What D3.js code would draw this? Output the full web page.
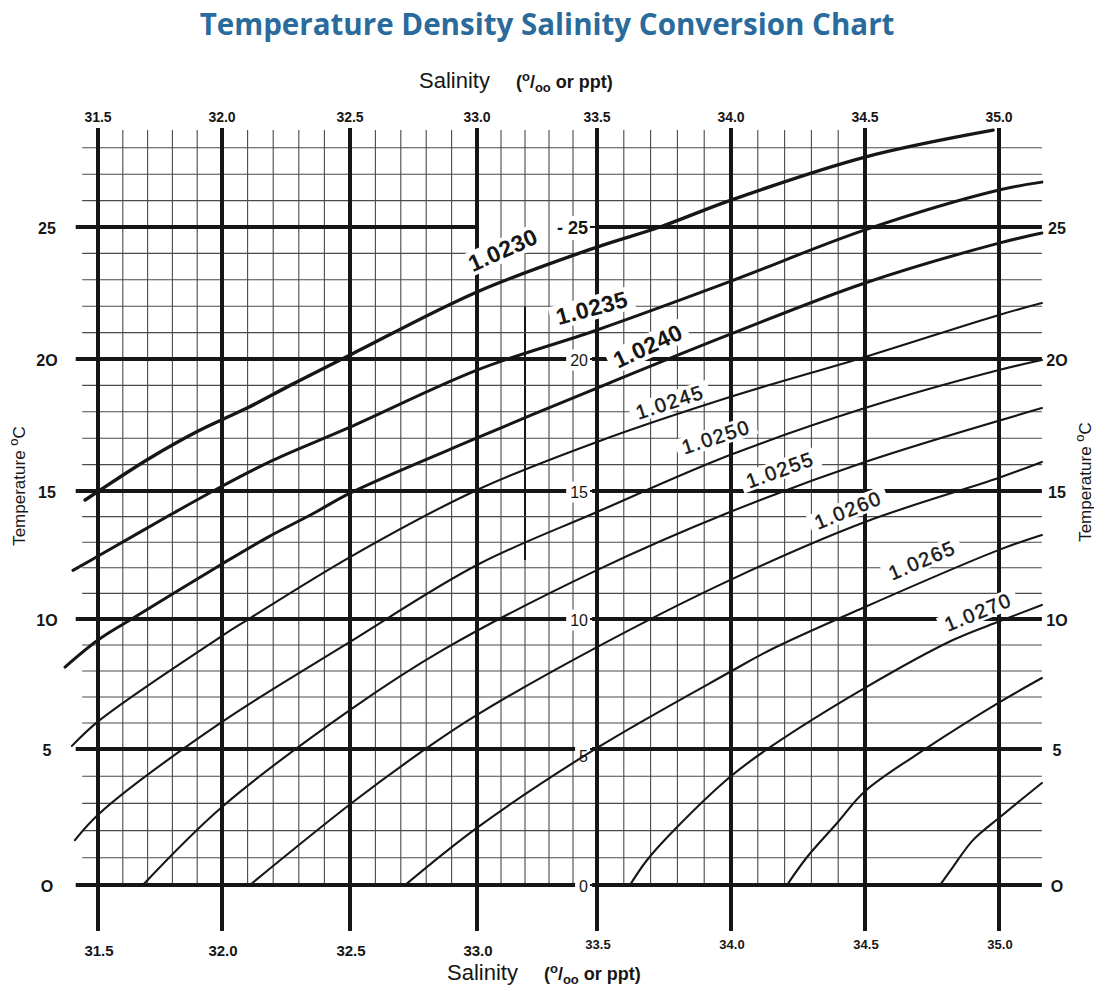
<!DOCTYPE html>
<html><head><meta charset="utf-8">
<script src="https://cdn.jsdelivr.net/npm/d3@7"></script>
<style>body{margin:0;background:#fff} svg{display:block}</style>
</head><body>
<svg id="chart" width="1094" height="988"></svg>
<script>
// ---------- data ----------
const chartTitle = "Temperature Density Salinity Conversion Chart";
const salinityTicks = [31.5, 32.0, 32.5, 33.0, 33.5, 34.0, 34.5, 35.0];
const salinityTickLabels = ["31.5", "32.0", "32.5", "33.0", "33.5", "34.0", "34.5", "35.0"];
const temperatureTicks = [0, 5, 10, 15, 20, 25];
const temperatureSideLabels = ["O", "5", "1O", "15", "2O", "25"];
const temperatureCenterLabels = ["0", "5", "10", "15", "20", "- 25"];

const d1_0230 = [[31.448,14.65],[31.589,15.53],[31.71,16.25],[31.9,17.25],[32.0,17.7],[32.1,18.15],[32.27,19.02],[32.5,20.15],[33.0,22.54],[33.5,24.24],[33.735,25.0],[34.0,26.02],[34.5,27.65],[34.978,28.67]];
const d1_0235 = [[31.399,11.9],[31.508,12.5],[31.79,14.06],[32.0,15.18],[32.2,16.17],[32.5,17.42],[33.0,19.58],[33.5,21.10],[34.0,22.95],[34.5,24.89],[35.0,26.40],[35.16,26.70]];
const d1_0240 = [[31.367,8.15],[31.5,9.19],[31.629,9.96],[32.0,12.15],[32.18,13.2],[32.36,14.14],[32.5,14.92],[33.0,17.01],[33.5,18.90],[34.0,20.95],[34.5,22.88],[35.0,24.39],[35.16,24.77]];
const d1_0245 = [[31.395,5.12],[31.508,6.12],[32.0,9.35],[32.098,9.96],[32.5,12.42],[33.0,15.04],[33.5,16.86],[33.996,18.56],[34.5,20.08],[35.0,21.67],[35.16,22.12]];
const d1_0250 = [[31.407,1.65],[31.508,2.65],[32.0,6.04],[32.5,9.12],[33.0,12.11],[33.5,14.18],[33.996,16.36],[34.5,18.14],[35.0,19.58],[35.16,19.96]];
const d1_0255 = [[31.681,0],[32.0,2.87],[32.512,6.58],[32.866,8.81],[33.5,11.91],[33.996,14.18],[34.5,16.10],[35.16,18.14]];
const d1_0260 = [[32.109,0],[32.512,3.05],[32.803,5.04],[33.0,6.31],[33.5,8.92],[33.996,11.52],[34.5,13.79],[35.0,15.50],[35.16,16.10]];
const d1_0265 = [[32.717,0],[33.004,2.13],[33.5,5.04],[33.996,7.96],[34.146,8.81],[34.5,10.47],[35.0,12.70],[35.16,13.28]];
const d1_0270 = [[33.623,0],[33.687,0.92],[33.799,2.13],[33.996,3.97],[34.146,5.07],[34.5,7.35],[34.828,9.19],[35.004,9.92],[35.16,10.55]];
const d1_0275 = [[34.209,0],[34.284,1.03],[34.396,2.28],[34.5,3.45],[34.731,5.04],[35.004,6.81],[35.16,7.73]];
const d1_0280 = [[34.780,0],[34.828,0.66],[34.903,1.65],[35.004,2.50],[35.16,3.75]];

const densityNames = ["1.0230","1.0235","1.0240","1.0245","1.0250","1.0255","1.0260","1.0265","1.0270","1.0275","1.0280"];
const densityCurves = [d1_0230,d1_0235,d1_0240,d1_0245,d1_0250,d1_0255,d1_0260,d1_0265,d1_0270,d1_0275,d1_0280];

const labelNames = ["1.0230","1.0235","1.0240","1.0245","1.0250","1.0255","1.0260","1.0265","1.0270"];
const labelSalinity = [33.108, 33.479, 33.69, 33.772, 33.944, 34.183, 34.437, 34.713, 34.922];
const labelTemperature = [24.13, 21.93, 20.49, 18.37, 17.05, 15.80, 14.26, 12.30, 10.27];
const labelAngle = [-24, -15, -25, -18, -18, -20, -22, -23, -22];

// ---------- layout ----------
const svg = d3.select("#chart");
const x = d3.scaleLinear().domain(salinityTicks).range([98, 222, 350, 477, 597, 731, 865, 999]);
const y = d3.scaleLinear().domain(temperatureTicks).range([885, 749, 619, 491, 359, 227]);
const sMin = 31.42, sMax = 35.16, tTop = 28.67;
const ink = "#161616";
const FONT = "'Liberation Sans', Arial, Helvetica, sans-serif";

// title
const tt = svg.append("text").attr("x", 547).attr("y", 35).attr("text-anchor", "middle")
  .attr("font-family", "'Open Sans', sans-serif").attr("font-weight", 700)
  .attr("font-size", 25).attr("fill", "#2a6b9c").text(chartTitle);
const tw = tt.node().getComputedTextLength();
tt.attr("font-size", 25 * 695 / tw);

const gGrid = svg.append("g");
const gBg = svg.append("g");
const gCurves = svg.append("g");
const gText = svg.append("g");

// minor verticals (0.1 salinity), none beyond 34.5
const minorS = d3.range(316, 345).map(v => v / 10).filter(v => Math.abs(v * 2 - Math.round(v * 2)) > 1e-6);
gGrid.selectAll("line.mv").data(minorS).join("line")
  .attr("x1", d => x(d)).attr("x2", d => x(d))
  .attr("y1", y(tTop)).attr("y2", y(0))
  .attr("stroke", "#4a4a4a").attr("stroke-width", 1.1);
gGrid.append("line").attr("x1", x(33.2)).attr("x2", x(33.2)).attr("y1", y(22)).attr("y2", y(12.3))
  .attr("stroke", ink).attr("stroke-width", 2);

// minor horizontals (1 degree)
const minorT = d3.range(1, 29).filter(v => v % 5 !== 0);
gGrid.selectAll("line.mh").data(minorT).join("line")
  .attr("x1", x(sMin) + 4).attr("x2", x(sMax))
  .attr("y1", d => y(d)).attr("y2", d => y(d))
  .attr("stroke", "#4a4a4a").attr("stroke-width", 1.1);

// major verticals
gGrid.selectAll("line.MV").data(salinityTicks).join("line")
  .attr("x1", d => x(d)).attr("x2", d => x(d))
  .attr("y1", y(tTop) - 2).attr("y2", y(0) + 46)
  .attr("stroke", ink).attr("stroke-width", 4);

// major horizontals
temperatureTicks.forEach(t => {
  const segs = t === 25 ? [[sMin - 0.01, 33.0], [33.5, sMax]] : [[sMin - 0.01, sMax]];
  segs.forEach(sg => gGrid.append("line")
    .attr("x1", x(sg[0])).attr("x2", x(sg[1])).attr("y1", y(t)).attr("y2", y(t))
    .attr("stroke", ink).attr("stroke-width", 4));
});

// center labels on the 33.5 line
temperatureTicks.forEach((t, i) => {
  const isTop = i === temperatureTicks.length - 1;
  const txt = gText.append("text").attr("x", x(33.5) - 9).attr("y", y(t) + (t === 5 ? 7 : 1))
    .attr("text-anchor", "end").attr("dominant-baseline", "central")
    .attr("font-family", FONT).attr("font-size", isTop ? 18 : 16)
    .attr("font-weight", isTop ? 700 : 400).attr("fill", ink).text(temperatureCenterLabels[i]);
  const bb = txt.node().getBBox();
  gBg.append("rect").attr("x", bb.x - 4).attr("y", bb.y - 2).attr("width", bb.width + 8).attr("height", bb.height + 4).attr("fill", "#fff");
  gText.append("line").attr("x1", x(33.5) - 7).attr("x2", x(33.5)).attr("y1", y(t)).attr("y2", y(t)).attr("stroke", ink).attr("stroke-width", 2);
});

// density labels
labelNames.forEach((nm, i) => {
  const big = i < 3;
  const tr = `translate(${x(labelSalinity[i])},${y(labelTemperature[i])}) rotate(${labelAngle[i]})`;
  const g = gText.append("g").attr("transform", tr);
  const txt = g.append("text").attr("text-anchor", "middle").attr("dominant-baseline", "central")
    .attr("font-family", FONT).attr("font-size", big ? 23 : 20)
    .attr("font-weight", big ? 700 : 400).attr("letter-spacing", big ? 0.5 : 1.6)
    .attr("fill", ink).attr("stroke", ink).attr("stroke-width", big ? 0 : 0.45).text(nm);
  const bb = txt.node().getBBox();
  gBg.append("rect").attr("transform", tr)
    .attr("x", bb.x - 6).attr("y", bb.y + 1).attr("width", bb.width + 12).attr("height", bb.height - 2).attr("fill", "#fff");
});

// density curves
const line = d3.line().x(d => x(d[0])).y(d => y(d[1])).curve(d3.curveCatmullRom.alpha(0.5));
gCurves.selectAll("path").data(densityCurves).join("path")
  .attr("d", line).attr("fill", "none").attr("stroke", ink)
  .attr("stroke-linecap", "round").attr("stroke-linejoin", "round")
  .attr("stroke-width", (d, i) => i === 0 ? 3.4 : i < 3 ? 3 : 2.1);

// side temperature labels
temperatureTicks.forEach((t, i) => {
  [47, 1057].forEach(px => gText.append("text").attr("x", px).attr("y", y(t) + 1)
    .attr("text-anchor", "middle").attr("dominant-baseline", "central")
    .attr("font-family", FONT).attr("font-size", 16).attr("font-weight", 700)
    .attr("fill", ink).text(temperatureSideLabels[i]));
});

// salinity tick labels
salinityTicks.forEach((s, i) => {
  gText.append("text").attr("x", x(s)).attr("y", 122).attr("text-anchor", "middle")
    .attr("font-family", FONT).attr("font-size", 14).attr("font-weight", 700)
    .attr("fill", ink).text(salinityTickLabels[i]);
  const right = s >= 33.5;
  gText.append("text").attr("x", x(s) + 1).attr("y", right ? 949 : 956).attr("text-anchor", "middle")
    .attr("font-family", FONT).attr("font-size", right ? 13 : 15).attr("font-weight", 700)
    .attr("fill", ink).text(salinityTickLabels[i]);
});

// axis titles
function salTitle(cx, cy) {
  const t = gText.append("text").attr("x", cx).attr("y", cy).attr("font-family", FONT).attr("fill", ink);
  t.append("tspan").attr("font-size", 22).text("Salinity");
  t.append("tspan").attr("font-size", 18).attr("font-weight", 700).attr("dx", 26).text("(");
  t.append("tspan").attr("font-size", 13).attr("font-weight", 700).attr("dy", -7).text("o");
  t.append("tspan").attr("font-size", 18).attr("font-weight", 700).attr("dy", 7).text("/");
  t.append("tspan").attr("font-size", 13).attr("font-weight", 700).attr("dy", 4).text("oo");
  t.append("tspan").attr("font-size", 18).attr("font-weight", 700).attr("dy", -4).text(" or ppt)");
}
salTitle(419, 88);
salTitle(447, 980);

function tempTitle(cx, cy) {
  const t = gText.append("text").attr("transform", `translate(${cx},${cy}) rotate(-90)`)
    .attr("text-anchor", "middle").attr("font-family", FONT).attr("font-size", 17).attr("fill", ink);
  t.append("tspan").text("Temperature ");
  t.append("tspan").attr("font-size", 13).attr("dy", -7).text("o");
  t.append("tspan").attr("dy", 7).text("C");
}
tempTitle(25, 486);
tempTitle(1091, 482);
</script>
</body></html>
